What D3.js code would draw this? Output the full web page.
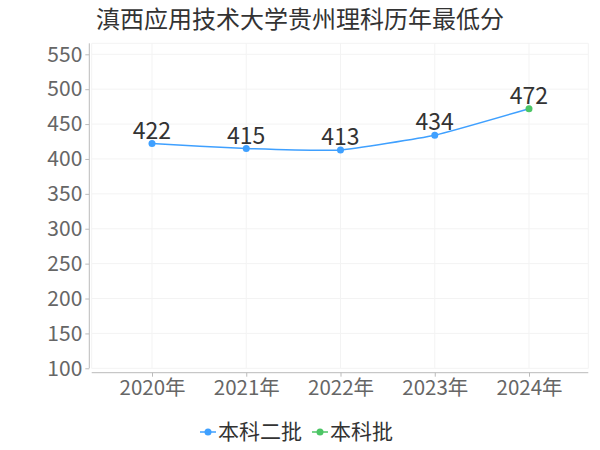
<!DOCTYPE html>
<html>
<head>
<meta charset="utf-8">
<script src="https://cdn.jsdelivr.net/npm/d3@7/dist/d3.min.js"></script>
<style>
  html, body { margin: 0; padding: 0; background: #fff; }
  svg { display: block; }
  text { font-family: "Noto Sans CJK SC", "Noto Sans", sans-serif; }
</style>
</head>
<body>
<svg id="chart" width="600" height="450"></svg>
<script>
const titleText = "滇西应用技术大学贵州理科历年最低分";
const years = ["2020年", "2021年", "2022年", "2023年", "2024年"];
const scores = [422, 415, 413, 434, 472];
const batches = ["本科二批", "本科二批", "本科二批", "本科二批", "本科批"];
const seriesNames = ["本科二批", "本科批"];
const seriesColors = ["#3fa0ff", "#4cc565"];
const yTicks = [100, 150, 200, 250, 300, 350, 400, 450, 500, 550];

const svg = d3.select("#chart");
const plot = { left: 91.7, right: 588.3, top: 43.3, bottom: 368.3 };

const x = d3.scalePoint().domain(years).range([152, 529]);
const y = d3.scaleLinear().domain([100, 550]).range([368.3, 54.3]);
const color = d3.scaleOrdinal().domain(seriesNames).range(seriesColors);

// title
svg.append("text").attr("x", 300).attr("y", 28).attr("text-anchor", "middle")
  .attr("font-size", 24).attr("fill", "#333").text(titleText);

// grid
const grid = svg.append("g");
grid.selectAll("line.h").data(yTicks).enter().append("line")
  .attr("x1", plot.left).attr("x2", plot.right)
  .attr("y1", d => y(d)).attr("y2", d => y(d))
  .attr("stroke", "#f3f3f3").attr("stroke-width", 1);
grid.append("line").attr("x1", plot.left).attr("x2", plot.right)
  .attr("y1", plot.top).attr("y2", plot.top).attr("stroke", "#f3f3f3");
grid.selectAll("line.v").data(years).enter().append("line")
  .attr("x1", d => x(d)).attr("x2", d => x(d))
  .attr("y1", plot.top).attr("y2", plot.bottom)
  .attr("stroke", "#f3f3f3");
[plot.left, plot.right].forEach(px => grid.append("line")
  .attr("x1", px).attr("x2", px).attr("y1", plot.top).attr("y2", plot.bottom)
  .attr("stroke", "#f3f3f3"));

// y axis
const yAxis = svg.append("g").attr("transform", "translate(89.3,0)")
  .call(d3.axisLeft(y).tickValues(yTicks).tickSize(4).tickPadding(3).tickSizeOuter(0));
yAxis.select(".domain").remove();
yAxis.append("line").attr("x1", 0).attr("x2", 0).attr("y1", plot.top).attr("y2", plot.bottom)
  .attr("stroke", "#bbb");
yAxis.selectAll(".tick line").attr("stroke", "#bbb");
yAxis.selectAll(".tick text").attr("font-size", 21).attr("fill", "#666")
  .style("font-family", '"Noto Sans CJK SC", sans-serif');

// x axis
const xAxis = svg.append("g").attr("transform", "translate(0,372.7)")
  .call(d3.axisBottom(x).tickSize(4).tickPadding(4).tickSizeOuter(0));
xAxis.select(".domain").remove();
xAxis.append("line").attr("x1", plot.left).attr("x2", plot.right).attr("y1", 0).attr("y2", 0)
  .attr("stroke", "#bbb");
xAxis.selectAll(".tick line").attr("stroke", "#bbb");
xAxis.selectAll(".tick text").attr("font-size", 20.5).attr("fill", "#666")
  .style("font-family", '"Noto Sans CJK SC", sans-serif');

// line
const line = d3.line().x((d, i) => x(years[i])).y(d => y(d)).curve(d3.curveCardinal.tension(0.6));
svg.append("path").datum(scores).attr("d", line)
  .attr("fill", "none").attr("stroke", seriesColors[0]).attr("stroke-width", 1.5);

// points
svg.selectAll("circle.pt").data(scores).enter().append("circle")
  .attr("cx", (d, i) => x(years[i])).attr("cy", d => y(d)).attr("r", 3.5)
  .attr("fill", (d, i) => color(batches[i]));

// labels
svg.selectAll("text.lbl").data(scores).enter().append("text")
  .attr("x", (d, i) => x(years[i])).attr("y", d => y(d) - 5)
  .attr("text-anchor", "middle").attr("font-size", 23).attr("fill", "#333")
  .text(d => d);

// legend
const legend = svg.append("g").attr("transform", "translate(0,432)");
const items = legend.selectAll("g.item").data(seriesNames).enter().append("g")
  .attr("transform", (d, i) => `translate(${[200, 312][i]},0)`);
items.append("line").attr("x1", 0).attr("x2", 16).attr("y1", 0).attr("y2", 0)
  .attr("stroke", d => color(d)).attr("stroke-width", 1.5);
items.append("circle").attr("cx", 8).attr("cy", 0).attr("r", 3.5).attr("fill", d => color(d));
items.append("text").attr("x", 18).attr("y", 0).attr("dy", "0.35em")
  .attr("font-size", 21).attr("fill", "#333").text(d => d);
</script>
</body>
</html>
